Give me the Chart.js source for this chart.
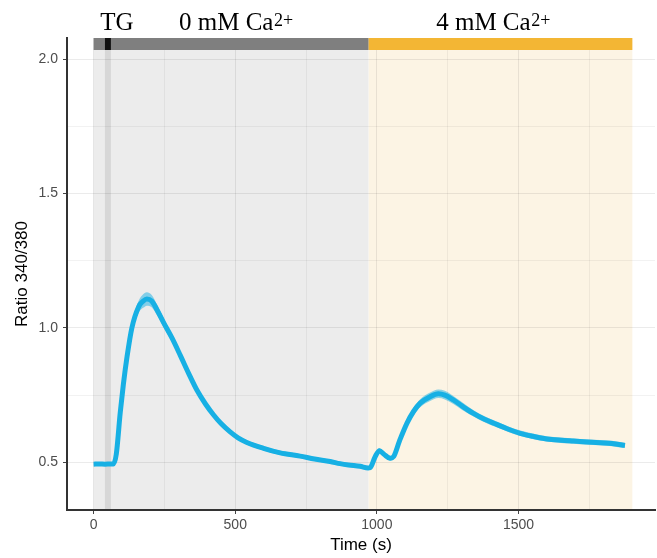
<!DOCTYPE html>
<html><head><meta charset="utf-8">
<script src="https://cdn.jsdelivr.net/npm/chart.js@4.4.1/dist/chart.umd.min.js"></script>
<style>html,body{margin:0;padding:0;background:#fff}#wrap{width:657px;height:558px}</style>
</head><body><div id="wrap"><canvas id="c" width="657" height="558"></canvas></div>
<script>
// ---- data ----
const timeSec = [0,20,40,60,70,80,94,105,118,135,159,175,188,205,225,247,277,306,335,365,395,423,450,482,510,541,600,659,729,780,835,870,900,941,969,976,994,1009,1025,1047,1059,1080,1106,1130,1153,1188,1217,1240,1270,1300,1341,1380,1423,1460,1506,1550,1600,1650,1694,1740,1788,1830,1876];
const ratioMean = [0.493,0.494,0.493,0.494,0.494,0.53,0.685,0.79,0.893,1.0,1.079,1.10,1.108,1.10,1.065,1.02,0.962,0.898,0.832,0.768,0.717,0.677,0.644,0.613,0.591,0.574,0.552,0.535,0.523,0.512,0.503,0.495,0.49,0.485,0.479,0.48,0.521,0.543,0.53,0.515,0.521,0.58,0.645,0.69,0.72,0.744,0.755,0.75,0.732,0.71,0.682,0.66,0.641,0.625,0.608,0.597,0.587,0.582,0.579,0.576,0.573,0.57,0.563];
const ratioSem = [0.006,0.006,0.006,0.006,0.006,0.008,0.01,0.012,0.015,0.018,0.022,0.025,0.025,0.023,0.02,0.017,0.014,0.012,0.011,0.01,0.01,0.01,0.009,0.009,0.008,0.008,0.008,0.008,0.007,0.007,0.007,0.007,0.007,0.007,0.007,0.007,0.008,0.009,0.009,0.009,0.009,0.01,0.012,0.014,0.015,0.016,0.016,0.016,0.015,0.014,0.012,0.011,0.011,0.01,0.01,0.01,0.01,0.01,0.01,0.01,0.01,0.01,0.01];
const xMajorTicks = [0,500,1000,1500];
const xMinorTicks = [250,750,1250,1750];
const yMajorTicks = [0.5,1.0,1.5,2.0];
const yMinorTicks = [0.75,1.25,1.75];
const phaseLabels = ['0 mM Ca','4 mM Ca'];
const phaseSup = ['2+','2+'];
const phaseStart = [0,971];
const phaseEnd = [971,1902];
const tgLabel = 'TG';
const tgStart = 40, tgEnd = 61;

// ---- styling ----
const LINE = '#17b0e4';
const RIBBON = 'rgba(23,176,228,0.5)';
const phaseBg = ['#ececec','#fcf4e4'];
const phaseBar = ['#7f7f7f','#f3b634'];

const upper = ratioMean.map((v,i)=>({x:timeSec[i], y:v+ratioSem[i]}));
const lower = ratioMean.map((v,i)=>({x:timeSec[i], y:v-ratioSem[i]}));
const mean = ratioMean.map((v,i)=>({x:timeSec[i], y:v}));

const decor = {
  id:'decor',
  beforeDraw(chart){
    const {ctx, chartArea:a, scales:{x}} = chart;
    ctx.save();
    for (let i=0;i<phaseStart.length;i++){
      const x0 = x.getPixelForValue(phaseStart[i]), x1 = x.getPixelForValue(phaseEnd[i]);
      ctx.fillStyle = phaseBg[i];
      ctx.fillRect(x0, a.top, x1-x0, a.bottom-a.top);
    }
    const t0 = x.getPixelForValue(tgStart), t1 = x.getPixelForValue(tgEnd);
    ctx.fillStyle = '#d7d7d7';
    ctx.fillRect(t0, a.top, t1-t0, a.bottom-a.top);
    ctx.restore();
  },
  afterDraw(chart){
    const {ctx, chartArea:a, scales:{x}} = chart;
    ctx.save();
    const barH = 12;
    for (let i=0;i<phaseStart.length;i++){
      const x0 = x.getPixelForValue(phaseStart[i]), x1 = x.getPixelForValue(phaseEnd[i]);
      ctx.fillStyle = phaseBar[i];
      ctx.fillRect(x0, a.top, x1-x0, barH);
    }
    const t0 = x.getPixelForValue(tgStart), t1 = x.getPixelForValue(tgEnd);
    ctx.fillStyle = '#111';
    ctx.fillRect(t0, a.top, t1-t0, barH);
    // texts
    const mainFont = '25px "Liberation Serif"';
    const supFont = '18px "Liberation Serif"';
    ctx.fillStyle = '#000';
    ctx.textBaseline = 'alphabetic';
    ctx.textAlign = 'left';
    const base = a.top - 8;
    ctx.font = mainFont;
    const tgw = ctx.measureText(tgLabel).width;
    ctx.fillText(tgLabel, x.getPixelForValue(82) - tgw/2, base);
    const centers = [502,1410];
    for (let i=0;i<phaseLabels.length;i++){
      ctx.font = mainFont;
      const w1 = ctx.measureText(phaseLabels[i]).width;
      ctx.font = supFont;
      const w2 = ctx.measureText(phaseSup[i]).width;
      const left = x.getPixelForValue(centers[i]) - (w1+w2)/2;
      ctx.font = mainFont;
      ctx.fillText(phaseLabels[i], left, base);
      ctx.font = supFont;
      ctx.fillText(phaseSup[i], left + w1 + 0.5, base - 4);
    }
    ctx.restore();
  }
};

const tickFont = {family:'"Liberation Sans", Arial, sans-serif', size:14};
const titleFont = {family:'"Liberation Sans", Arial, sans-serif', size:17};

new Chart(document.getElementById('c'), {
  type:'line',
  data:{
    datasets:[
      {data:mean, borderColor:LINE, borderWidth:5, pointRadius:0, fill:false, cubicInterpolationMode:'monotone'},
      {data:upper, borderWidth:0, borderColor:'rgba(0,0,0,0)', pointRadius:0, fill:false, cubicInterpolationMode:'monotone'},
      {data:lower, borderWidth:0, borderColor:'rgba(0,0,0,0)', pointRadius:0, fill:'-1', backgroundColor:RIBBON, cubicInterpolationMode:'monotone'}
    ]
  },
  options:{
    responsive:false, animation:false, devicePixelRatio:1,
    layout:{padding:{top:38, right:2, left:0, bottom:0}},
    plugins:{legend:{display:false}, tooltip:{enabled:false}},
    scales:{
      x:{
        type:'linear', min:-94, max:1982,
        afterBuildTicks:s=>{ s.ticks = [...xMajorTicks, ...xMinorTicks].sort((p,q)=>p-q).map(v=>({value:v})); },
        afterFit:s=>{ s.height = 48; },
        ticks:{autoSkip:false, maxRotation:0, padding:3, color:'#4d4d4d', font:tickFont,
          callback:v=> xMajorTicks.includes(v) ? String(v) : ''},
        grid:{color:c=> xMajorTicks.includes(c.tick && c.tick.value) ? 'rgba(0,0,0,0.08)' : 'rgba(0,0,0,0.05)',
          lineWidth:1, tickLength:4, drawTicks:true,
          tickColor:c=> xMajorTicks.includes(c.tick && c.tick.value) ? '#444' : 'rgba(0,0,0,0)'},
        border:{display:true, color:'#333', width:2},
        title:{display:true, text:'Time (s)', color:'#000', font:titleFont, padding:{top:0, bottom:2}}
      },
      y:{
        type:'linear', min:0.3225, max:2.079,
        afterBuildTicks:s=>{ s.ticks = [...yMajorTicks, ...yMinorTicks].sort((p,q)=>p-q).map(v=>({value:v})); },
        afterFit:s=>{ s.width = 67; },
        ticks:{autoSkip:false, padding:5, color:'#4d4d4d', font:tickFont,
          callback:v=> yMajorTicks.includes(v) ? v.toFixed(1) : ''},
        grid:{color:c=> yMajorTicks.includes(c.tick && c.tick.value) ? 'rgba(0,0,0,0.08)' : 'rgba(0,0,0,0.05)',
          lineWidth:1, tickLength:4, drawTicks:true,
          tickColor:c=> yMajorTicks.includes(c.tick && c.tick.value) ? '#444' : 'rgba(0,0,0,0)'},
        border:{display:true, color:'#333', width:2},
        title:{display:true, text:'Ratio 340/380', color:'#000', font:titleFont, padding:{top:12, bottom:0}}
      }
    }
  },
  plugins:[decor]
});
</script></body></html>
